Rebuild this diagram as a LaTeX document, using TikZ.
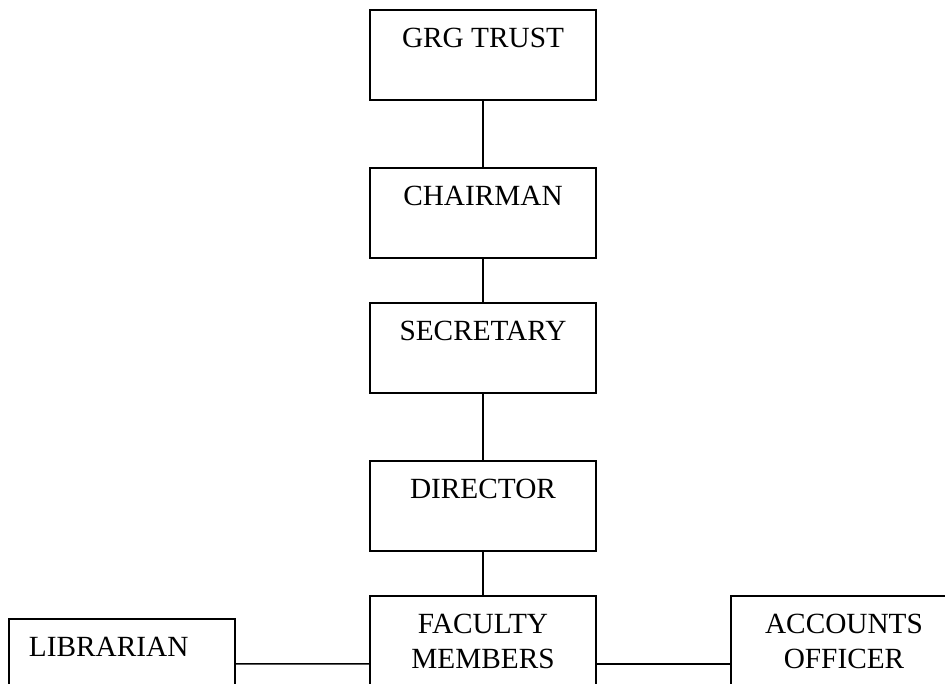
\documentclass[tikz,border=0pt]{standalone}
\usepackage{fontspec}
\setmainfont{Liberation Serif}
\usetikzlibrary{positioning}
\tikzstyle{block} = [draw, rectangle, inner sep=0pt, minimum width=6.78cm, minimum height=2.7cm, text height=1.14cm, text depth=1.56cm, align=center, font=\fontsize{25}{29.9}\selectfont]
\tikzstyle{tall} = [minimum height=4.08cm, text height=2.19cm, text depth=1.89cm]

\begin{document}
\begin{tikzpicture}[x=0.03cm,y=-0.03cm,line width=1.4pt]
    \useasboundingbox (0,0) rectangle (945,684);
    \clip (0,0) rectangle (945,684);
    \node [block,anchor=north] (trust) at (483,9) {GRG TRUST};
    \node [block,anchor=north] (chair) at (483,167) {CHAIRMAN};
    \node [block,anchor=north] (secr) at (483,302) {SECRETARY};
    \node [block,anchor=north] (dir) at (483,460) {DIRECTOR};
    \node [block,tall,anchor=north] (fac) at (483,595) {FACULTY\\MEMBERS};
    \node [block,anchor=north,align=left,text width=5.58cm,inner xsep=0.6cm] (lib) at (122,618) {LIBRARIAN};
    \node [block,tall,anchor=north] (acc) at (844,595) {ACCOUNTS\\OFFICER};
    
    \draw (trust) -- (chair);
    \draw (chair) -- (secr);
    \draw (secr) -- (dir);
    \draw (dir) -- (fac);
    \draw (lib) -- (fac);
    \draw (fac) -- (acc);
\end{tikzpicture}
\end{document}
